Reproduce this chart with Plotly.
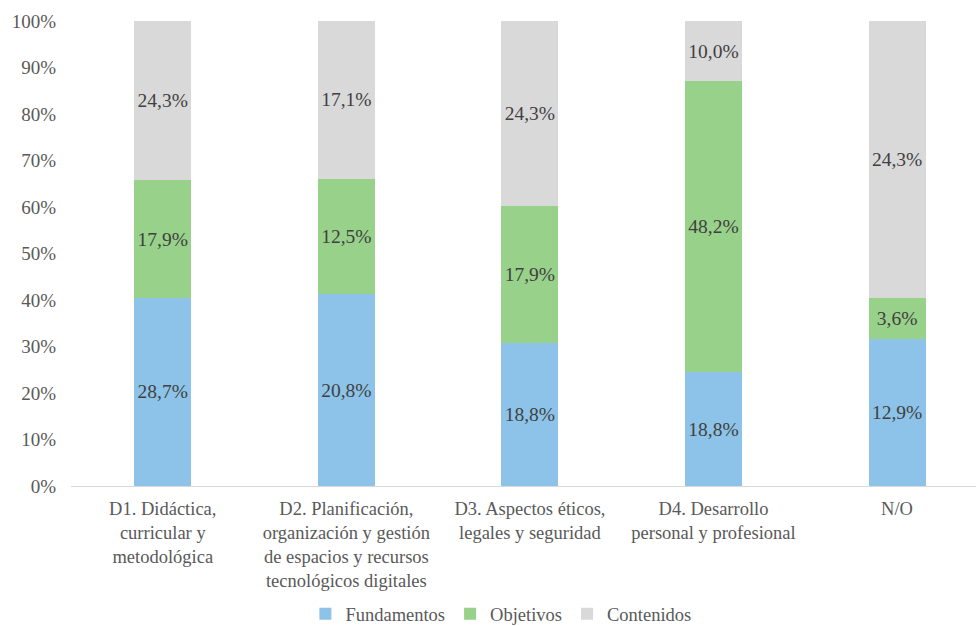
import plotly.graph_objects as go

categories = ["D1. Didáctica,<br>curricular y<br>metodológica",
              "D2. Planificación,<br>organización y gestión<br>de espacios y recursos<br>tecnológicos digitales",
              "D3. Aspectos éticos,<br>legales y seguridad",
              "D4. Desarrollo<br>personal y profesional",
              "N/O"]
fundamentos = [28.7, 20.8, 18.8, 18.8, 12.9]
objetivos = [17.9, 12.5, 17.9, 48.2, 3.6]
contenidos = [24.3, 17.1, 24.3, 10.0, 24.3]

series = [("Fundamentos", fundamentos, "#8DC3E8"),
          ("Objetivos", objetivos, "#98D18A"),
          ("Contenidos", contenidos, "#D9D9D9")]

FONT = "Liberation Serif"

fig = go.Figure()
for name, vals, color in series:
    fig.add_trace(go.Bar(
        x=categories, y=vals, name=name, marker=dict(color=color, line=dict(width=0)),
        text=[f"{v:.1f}%".replace(".", ",") for v in vals],
        textposition="inside", insidetextanchor="middle", textangle=0,
        textfont=dict(family=FONT, size=19.5, color="#404040"),
        hoverinfo="skip",
    ))

fig.update_layout(
    barmode="stack", barnorm="percent", bargap=0.69,
    width=976, height=626,
    margin=dict(l=71, r=0, t=21, b=140),
    paper_bgcolor="white", plot_bgcolor="white",
    font=dict(family=FONT, size=19, color="#595959"),
    legend=dict(orientation="h", x=0.475, xanchor="center", y=0.019, yref="container", yanchor="middle",
                font=dict(family=FONT, size=18.5, color="#595959"), traceorder="normal",
                itemwidth=30),
    xaxis=dict(range=[-0.5, 4.43], showgrid=False, showline=True, linecolor="#D9D9D9",
               linewidth=1, ticks="", automargin=False, ticklabelstandoff=6,
               tickfont=dict(family=FONT, size=18.5, color="#595959")),
    yaxis=dict(range=[0, 100], dtick=10, ticksuffix="%", showgrid=False, zeroline=False,
               showline=False, automargin=False, ticklabelstandoff=14,
               tickfont=dict(family=FONT, size=19, color="#595959")),
)

fig.write_html("out.html")
